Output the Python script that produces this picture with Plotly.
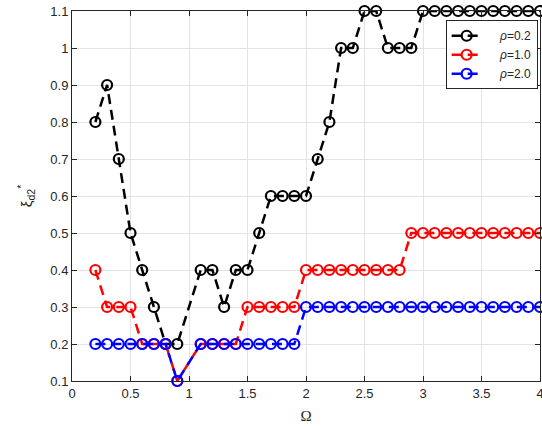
import plotly.graph_objects as go

# Frequency ratio samples (Omega = 1.0 is excluded)
omega = [0.2, 0.3, 0.4, 0.5, 0.6, 0.7, 0.8, 0.9,
         1.1, 1.2, 1.3, 1.4, 1.5, 1.6, 1.7, 1.8, 1.9, 2.0,
         2.1, 2.2, 2.3, 2.4, 2.5, 2.6, 2.7, 2.8, 2.9, 3.0,
         3.1, 3.2, 3.3, 3.4, 3.5, 3.6, 3.7, 3.8, 3.9, 4.0]

# Optimal damping ratio for each mass ratio
xi_rho02 = [0.8, 0.9, 0.7, 0.5, 0.4, 0.3, 0.2, 0.2,
            0.4, 0.4, 0.3, 0.4, 0.4, 0.5, 0.6, 0.6, 0.6, 0.6,
            0.7, 0.8, 1.0, 1.0, 1.1, 1.1, 1.0, 1.0, 1.0, 1.1,
            1.1, 1.1, 1.1, 1.1, 1.1, 1.1, 1.1, 1.1, 1.1, 1.1]
xi_rho10 = [0.4, 0.3, 0.3, 0.3, 0.2, 0.2, 0.2, 0.1,
            0.2, 0.2, 0.2, 0.2, 0.3, 0.3, 0.3, 0.3, 0.3, 0.4,
            0.4, 0.4, 0.4, 0.4, 0.4, 0.4, 0.4, 0.4, 0.5, 0.5,
            0.5, 0.5, 0.5, 0.5, 0.5, 0.5, 0.5, 0.5, 0.5, 0.5]
xi_rho20 = [0.2, 0.2, 0.2, 0.2, 0.2, 0.2, 0.2, 0.1,
            0.2, 0.2, 0.2, 0.2, 0.2, 0.2, 0.2, 0.2, 0.2, 0.3,
            0.3, 0.3, 0.3, 0.3, 0.3, 0.3, 0.3, 0.3, 0.3, 0.3,
            0.3, 0.3, 0.3, 0.3, 0.3, 0.3, 0.3, 0.3, 0.3, 0.3]

series = [
    ("<i>ρ</i>=0.2", xi_rho02, "#000000"),
    ("<i>ρ</i>=1.0", xi_rho10, "#ff0000"),
    ("<i>ρ</i>=2.0", xi_rho20, "#0000ff"),
]

x_ticks = [0, 0.5, 1, 1.5, 2, 2.5, 3, 3.5, 4]
x_tick_text = ["0", "0.5", "1", "1.5", "2", "2.5", "3", "3.5", "4"]
y_ticks = [0.1, 0.2, 0.3, 0.4, 0.5, 0.6, 0.7, 0.8, 0.9, 1.0, 1.1]
y_tick_text = ["0.1", "0.2", "0.3", "0.4", "0.5", "0.6", "0.7", "0.8", "0.9", "1", "1.1"]

fig = go.Figure()
for name, ys, color in series:
    fig.add_trace(go.Scatter(
        x=omega, y=ys, name="&nbsp;&nbsp;&nbsp;&nbsp;" + name, mode="lines+markers",
        line=dict(color=color, width=2.5, dash="10px,6px"),
        marker=dict(symbol="circle-open", size=10, color=color,
                    line=dict(color=color, width=2.2)),
        cliponaxis=False,
    ))

axis_color = "#262626"
font = "Liberation Sans, Arial, sans-serif"

fig.update_layout(
    width=542, height=428,
    margin=dict(l=72, r=2, t=11, b=47),
    paper_bgcolor="white", plot_bgcolor="white",
    font=dict(family=font, size=13, color=axis_color),
    showlegend=True,
    legend=dict(
        x=0.995, y=0.975, xanchor="right", yanchor="top",
        bgcolor="white", bordercolor=axis_color, borderwidth=1,
        font=dict(size=12, color=axis_color),
        itemwidth=30, tracegroupgap=0,
    ),
    xaxis=dict(
        range=[0, 4], tickvals=x_ticks, ticktext=x_tick_text,
        showgrid=True, gridcolor="#e3e3e3", gridwidth=1,
        zeroline=False, showline=True, linecolor=axis_color, linewidth=1,
        mirror="ticks", ticks="inside", ticklen=5, tickcolor=axis_color,
        ticklabeloverflow="allow", automargin=False,
        title=dict(text="Ω", font=dict(size=15, family="Liberation Serif, serif"), standoff=10),
    ),
    yaxis=dict(
        range=[0.1, 1.1], tickvals=y_ticks, ticktext=y_tick_text,
        showgrid=True, gridcolor="#e3e3e3", gridwidth=1,
        zeroline=False, showline=True, linecolor=axis_color, linewidth=1,
        mirror="ticks", ticks="inside", ticklen=5, tickcolor=axis_color,
        automargin=False,
        title=dict(text="ξ<sub>d2</sub><sup>*</sup>", font=dict(size=15), standoff=14),
    ),
)

fig.write_html("out.html")
